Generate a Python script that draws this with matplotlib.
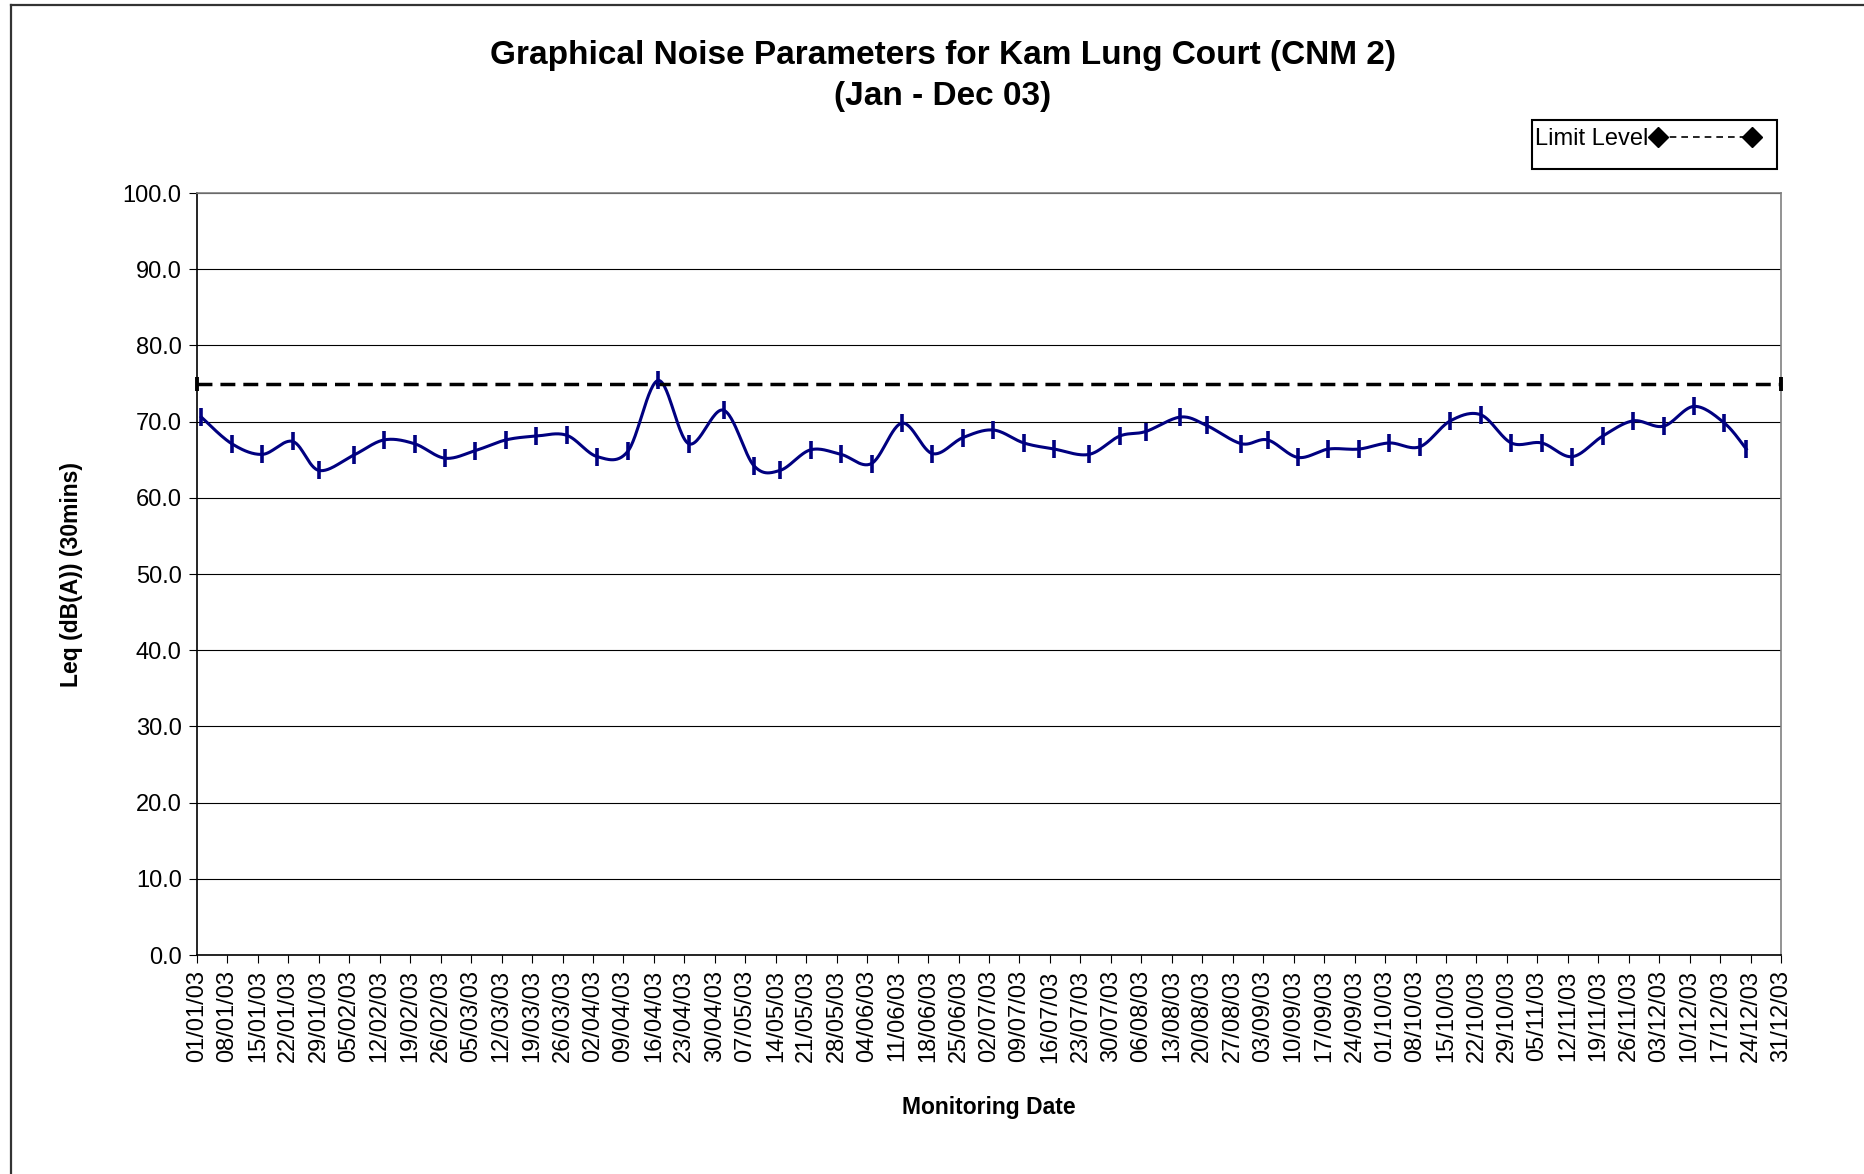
import datetime
import numpy as np
import matplotlib
matplotlib.use("Agg")
import matplotlib.pyplot as plt
import matplotlib.dates as mdates
from matplotlib.lines import Line2D
from matplotlib.patches import Rectangle

plt.rcParams['font.family'] = ['Liberation Sans', 'DejaVu Sans']

# monitoring dates (dd/mm/yy) and Leq readings
dates = ["02/01/03", "09/01/03", "16/01/03", "23/01/03", "29/01/03", "06/02/03",
         "13/02/03", "20/02/03", "27/02/03", "06/03/03", "13/03/03", "20/03/03",
         "27/03/03", "03/04/03", "10/04/03", "17/04/03", "24/04/03", "02/05/03",
         "09/05/03", "15/05/03", "22/05/03", "29/05/03", "05/06/03", "12/06/03",
         "19/06/03", "26/06/03", "03/07/03", "10/07/03", "17/07/03", "25/07/03",
         "01/08/03", "07/08/03", "15/08/03", "21/08/03", "29/08/03", "04/09/03",
         "11/09/03", "18/09/03", "25/09/03", "02/10/03", "09/10/03", "16/10/03",
         "23/10/03", "30/10/03", "06/11/03", "13/11/03", "20/11/03", "27/11/03",
         "04/12/03", "11/12/03", "18/12/03", "23/12/03"]
leq = [70.6, 67.1, 65.7, 67.4, 63.6, 65.6, 67.6, 67.1, 65.2, 66.2, 67.6, 68.1,
       68.2, 65.4, 66.1, 75.4, 67.1, 71.5, 64.2, 63.6, 66.3, 65.7, 64.5, 69.8,
       65.8, 67.9, 68.9, 67.2, 66.4, 65.7, 68.1, 68.7, 70.6, 69.5, 67.1, 67.6,
       65.3, 66.4, 66.4, 67.2, 66.7, 70.1, 70.9, 67.2, 67.2, 65.4, 68.1, 70.1,
       69.4, 72.0, 69.8, 66.4]
limit_level = 75.0
start_date = "01/01/03"
end_date = "31/12/03"


def to_num(s):
    return mdates.date2num(datetime.datetime.strptime(s, "%d/%m/%y"))


def smooth(x, y, n=30):
    # Excel style smoothed line (Catmull-Rom bezier)
    x = np.asarray(x, float)
    y = np.asarray(y, float)
    xs, ys = [], []
    t = np.linspace(0, 1, n)
    for i in range(len(x) - 1):
        i0 = max(i - 1, 0)
        i3 = min(i + 2, len(x) - 1)
        p0 = np.array([x[i], y[i]])
        p3 = np.array([x[i + 1], y[i + 1]])
        p1 = p0 + (p3 - np.array([x[i0], y[i0]])) / 6.0
        p2 = p3 - (np.array([x[i3], y[i3]]) - p0) / 6.0
        b = ((1 - t) ** 3)[:, None] * p0 + (3 * (1 - t) ** 2 * t)[:, None] * p1 \
            + (3 * (1 - t) * t ** 2)[:, None] * p2 + (t ** 3)[:, None] * p3
        xs.extend(b[:, 0])
        ys.extend(b[:, 1])
    return np.array(xs), np.array(ys)


xd = [to_num(d) for d in dates]
x0 = to_num(start_date)
x1 = to_num(end_date)

fig = plt.figure(figsize=(18.65, 11.74), dpi=100)
ax = fig.add_axes([0.1056, 0.1865, 0.8494, 0.6491])

sx, sy = smooth(xd, leq)
ax.plot(sx, sy, color='#000080', lw=2.2, zorder=3)
ax.plot(xd, leq, ls='none', marker='|', ms=13, mew=2.6, color='#000080', zorder=4)

ax.plot([x0, x1], [limit_level, limit_level], color='black', lw=2.5,
        dashes=(4.3, 2.3), zorder=3, clip_on=False)
ax.plot([x0, x1], [limit_level, limit_level], ls='none', marker='|', ms=10,
        mew=2.8, color='black', zorder=5, clip_on=False)

ax.set_xlim(x0, x1)
ax.set_ylim(0, 100)
ax.set_yticks(np.arange(0, 101, 10))
ax.yaxis.set_major_formatter(matplotlib.ticker.FormatStrFormatter('%.1f'))
ax.set_xticks(np.arange(x0, x1 + 1, 7))
ax.xaxis.set_major_formatter(mdates.DateFormatter('%d/%m/%y'))
ax.tick_params(axis='x', rotation=90, labelsize=17, direction='out', length=6, pad=5)
ax.tick_params(axis='y', labelsize=17, direction='out', length=6, pad=5)
ax.grid(axis='y', color='black', lw=0.8)
ax.set_axisbelow(True)
for s in ['top', 'right']:
    ax.spines[s].set_color('#808080')
    ax.spines[s].set_linewidth(1.2)
for s in ['left', 'bottom']:
    ax.spines[s].set_linewidth(1.2)

ax.set_ylabel('Leq (dB(A)) (30mins)', fontsize=16.5, fontweight='bold')
ax.yaxis.set_label_coords(-0.072, 0.5)
ax.set_xlabel('Monitoring Date', fontsize=16.5, fontweight='bold')
ax.xaxis.set_label_coords(0.5, -0.185)

fig.text(0.5056, 0.9525, 'Graphical Noise Parameters for Kam Lung Court (CNM 2)',
         ha='center', va='center', fontsize=24, fontweight='bold')
fig.text(0.5056, 0.9175, '(Jan - Dec 03)', ha='center', va='center',
         fontsize=24, fontweight='bold')

# legend box drawn separately, text sits at its top
fig.add_artist(Rectangle((1532 / 1865, 1 - 169 / 1174), 245 / 1865, 49 / 1174,
                         transform=fig.transFigure, fill=True, facecolor='white',
                         edgecolor='black', lw=1.5))
handle = Line2D([], [], color='black', lw=1.2, ls=(0, (4, 3)), marker='D', ms=10)
leg = fig.legend([handle], ['Limit Level'], loc='upper left',
                 bbox_to_anchor=(1534 / 1865, 1 - 127 / 1174), fontsize=17,
                 markerfirst=False, numpoints=2, frameon=False, handlelength=4.6,
                 handletextpad=0.1, borderpad=0.05, borderaxespad=0)

# outer chart border (top and left visible)
fig.add_artist(Line2D([0.0059, 0.0059], [0, 0.9957], color='#333333', lw=1.6))
fig.add_artist(Line2D([0.0059, 1], [0.9957, 0.9957], color='#333333', lw=1.6))

fig.savefig('out.png', dpi=100)
